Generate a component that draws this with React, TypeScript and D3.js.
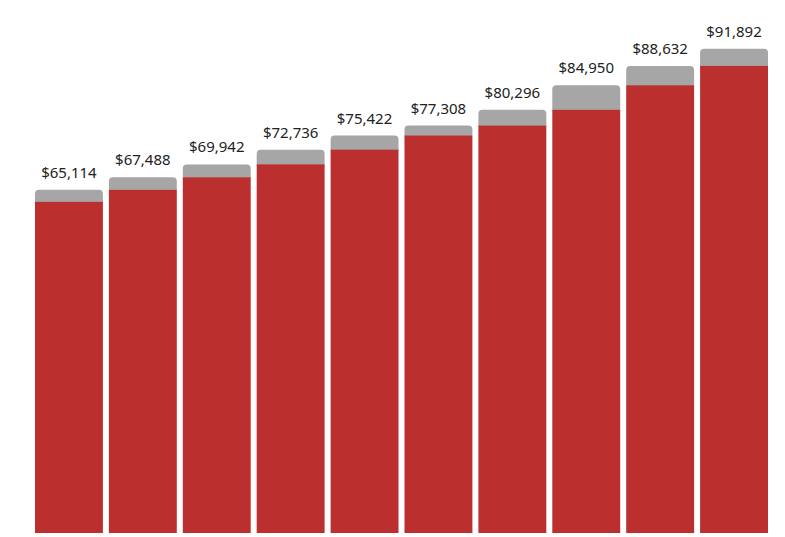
import React, { useEffect, useRef } from "react";
import * as d3 from "d3";

// each bar: red part = previous total, gray part = increase on top
const years = ["1", "2", "3", "4", "5", "6", "7", "8", "9", "10"];
const baseValues = [62840, 65114, 67488, 69942, 72736, 75422, 77308, 80296, 84950, 88632];
const totals = [65114, 67488, 69942, 72736, 75422, 77308, 80296, 84950, 88632, 91892];

const width = 785;
const height = 537;

const App: React.FC = () => {
  const ref = useRef<SVGSVGElement | null>(null);

  useEffect(() => {
    if (!ref.current) return;
    const svg = d3.select(ref.current);
    svg.selectAll("*").remove();

    const margin = { top: 6, right: 14, bottom: 4, left: 32 };
    const chartWidth = width - margin.left - margin.right;
    const chartHeight = height - margin.top - margin.bottom;
    const r = 4;

    const x = d3
      .scaleBand<string>()
      .domain(years)
      .range([0, chartWidth])
      .paddingInner(6 / 74)
      .paddingOuter(3 / 74);

    const y = d3.scaleLinear().domain([0, 100000]).range([chartHeight, 0]);

    const g = svg
      .append("g")
      .attr("transform", `translate(${margin.left},${margin.top})`);

    const bw = x.bandwidth();

    // gray top with rounded corners
    const topPath = (i: number) => {
      const x0 = x(years[i])!;
      const yTop = y(totals[i]);
      const yBot = y(baseValues[i]) + 1;
      return `M${x0},${yBot}V${yTop + r}Q${x0},${yTop} ${x0 + r},${yTop}H${x0 + bw - r}Q${x0 + bw},${yTop} ${x0 + bw},${yTop + r}V${yBot}Z`;
    };

    g.selectAll("path.inc")
      .data(totals)
      .join("path")
      .attr("class", "inc")
      .attr("d", (_, i) => topPath(i))
      .attr("fill", "#a6a6a6");

    g.selectAll("rect.base")
      .data(baseValues)
      .join("rect")
      .attr("class", "base")
      .attr("x", (_, i) => x(years[i])!)
      .attr("y", (d) => y(d))
      .attr("width", bw)
      .attr("height", (d) => chartHeight - y(d))
      .attr("fill", "#bb2f2f");

    g.selectAll("text.label")
      .data(totals)
      .join("text")
      .attr("class", "label")
      .attr("x", (_, i) => x(years[i])! + bw / 2)
      .attr("y", (d) => y(d) - 12)
      .attr("text-anchor", "middle")
      .style("font-family", "'Noto Sans', sans-serif")
      .style("font-size", "15px")
      .attr("fill", "#222")
      .text((d) => `$${d3.format(",")(d)}`);
  }, []);

  return (
    <svg
      ref={ref}
      width={width}
      height={height}
      style={{ position: "absolute", left: 0, top: 0 }}
    ></svg>
  );
};

export default App;
